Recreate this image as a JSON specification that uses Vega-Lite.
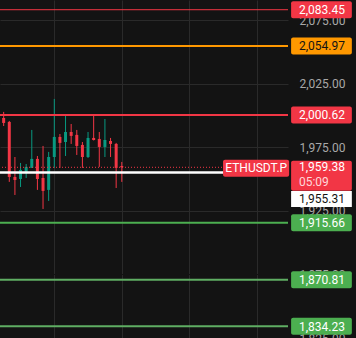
{
  "$schema": "https://vega.github.io/schema/vega-lite/v6.json",
  "width": 288,
  "height": 338,
  "autosize": {"type": "none"},
  "padding": {"left": 0, "top": 0, "right": 68, "bottom": 0},
  "background": "#131313",
  "config": {"view": {"stroke": null}, "font": "Roboto", "text": {"font": "Roboto"}, "scale": {"continuousPadding": 0}},
  "datasets": {
    "candles": [
      {"i": 0, "open": 1998.2, "high": 2003.0, "low": 1991.9, "close": 1994.3},
      {"i": 1, "open": 1995.1, "high": 1995.9, "low": 1947.9, "close": 1951.8},
      {"i": 2, "open": 1951.8, "high": 1967.5, "low": 1937.6, "close": 1949.4},
      {"i": 3, "open": 1950.2, "high": 1962.8, "low": 1943.9, "close": 1957.3},
      {"i": 4, "open": 1954.9, "high": 1962.0, "low": 1951.0, "close": 1959.7},
      {"i": 5, "open": 1958.9, "high": 1988.8, "low": 1958.9, "close": 1966.0},
      {"i": 6, "open": 1966.0, "high": 1968.3, "low": 1941.6, "close": 1950.2},
      {"i": 7, "open": 1951.0, "high": 1976.2, "low": 1926.6, "close": 1940.8},
      {"i": 8, "open": 1941.6, "high": 1971.5, "low": 1932.9, "close": 1967.5},
      {"i": 9, "open": 1967.5, "high": 2013.2, "low": 1958.9, "close": 1983.3},
      {"i": 10, "open": 1983.3, "high": 1985.6, "low": 1958.9, "close": 1978.6},
      {"i": 11, "open": 1979.3, "high": 1999.8, "low": 1968.3, "close": 1987.2},
      {"i": 12, "open": 1987.2, "high": 1993.5, "low": 1977.8, "close": 1984.1},
      {"i": 13, "open": 1984.9, "high": 1988.8, "low": 1969.1, "close": 1976.2},
      {"i": 14, "open": 1977.0, "high": 1979.3, "low": 1958.9, "close": 1967.5},
      {"i": 15, "open": 1967.5, "high": 1987.2, "low": 1966.7, "close": 1982.5},
      {"i": 16, "open": 1982.5, "high": 2000.6, "low": 1980.5, "close": 1980.9},
      {"i": 17, "open": 1981.7, "high": 1987.2, "low": 1959.7, "close": 1975.4},
      {"i": 18, "open": 1975.4, "high": 1997.4, "low": 1967.5, "close": 1980.9},
      {"i": 19, "open": 1980.1, "high": 1982.5, "low": 1967.5, "close": 1977.8},
      {"i": 20, "open": 1977.8, "high": 1978.6, "low": 1943.1, "close": 1958.9},
      {"i": 21, "open": 1960.4, "high": 1963.6, "low": 1947.9, "close": 1959.38}
    ],
    "levels": [
      {"price": 2083.45, "level": "R3"},
      {"price": 2054.97, "level": "R2"},
      {"price": 2000.62, "level": "R1"},
      {"price": 1915.66, "level": "S1"},
      {"price": 1870.81, "level": "S2"},
      {"price": 1834.23, "level": "S3"}
    ],
    "quote": [
      {"symbol": "ETHUSDT.P", "last": 1959.38, "mark": 1955.31, "countdown": "05:09"}
    ]
  },
  "layer": [
    {
      "data": {"name": "candles"},
      "mark": {"type": "rule", "strokeWidth": 1},
      "encoding": {
        "x": {"field": "i", "type": "quantitative",
          "scale": {"domain": [-0.65, 50.55], "nice": false, "zero": false, "padding": 0},
          "axis": {"values": [9, 21, 33, 45], "grid": true, "gridColor": "#2a2a2a", "labels": false, "ticks": false, "domain": false, "title": null}},
        "y": {"field": "low", "type": "quantitative",
          "scale": {"domain": [1825, 2091.1], "nice": false, "zero": false, "padding": 0},
          "axis": {"orient": "right", "values": [1825, 1850, 1875, 1900, 1925, 1950, 1975, 2000, 2025, 2050, 2075],
            "format": ",.2f", "grid": true,
            "gridColor": {"condition": {"test": "datum.value === 1875", "value": "#131313"}, "value": "#2a2a2a"},
            "domain": false, "ticks": false, "labelPadding": 11, "labelAlign": "left", "labelBaseline": "middle",
            "labelColor": "#a8a8a8", "labelFontSize": 12, "labelFont": "Roboto", "title": null}},
        "y2": {"field": "high"},
        "color": {"condition": {"test": "datum.close >= datum.open", "value": "#089981"}, "value": "#f23645"}
      }
    },
    {
      "data": {"name": "candles"},
      "mark": {"type": "bar", "size": 3},
      "encoding": {
        "x": {"field": "i", "type": "quantitative"},
        "y": {"field": "open", "type": "quantitative"},
        "y2": {"field": "close"},
        "color": {"condition": {"test": "datum.close >= datum.open", "value": "#089981"}, "value": "#f23645"}
      }
    },
    {
      "data": {"name": "levels"},
      "mark": {"type": "rule"},
      "encoding": {
        "y": {"field": "price", "type": "quantitative"},
        "stroke": {"field": "level", "type": "nominal",
          "scale": {"domain": ["R3", "R2", "R1", "S1", "S2", "S3"], "range": ["#f23645", "#ff9800", "#f23645", "#4caf50", "#5fae63", "#5fae63"]},
          "legend": null},
        "strokeWidth": {"condition": {"test": "datum.level === 'R3'", "value": 1}, "value": 2}
      }
    },
    {
      "data": {"name": "quote"},
      "mark": {"type": "rule", "color": "#ffffff", "strokeWidth": 2.5},
      "encoding": {"y": {"field": "mark", "type": "quantitative"}}
    },
    {
      "data": {"name": "quote"},
      "mark": {"type": "rule", "color": "#f23645", "strokeWidth": 1, "strokeDash": [1, 2]},
      "encoding": {"y": {"field": "last", "type": "quantitative"}}
    },
    {
      "data": {"name": "levels"},
      "mark": {"type": "rect", "yOffset": -8.5, "y2Offset": 8.5, "cornerRadius": 2},
      "encoding": {
        "x": {"datum": 51.1, "type": "quantitative"},
        "x2": {"datum": 61.9},
        "y": {"field": "price", "type": "quantitative"},
        "y2": {"field": "price"},
        "fill": {"field": "level", "type": "nominal",
          "scale": {"domain": ["R3", "R2", "R1", "S1", "S2", "S3"], "range": ["#f23645", "#ff9800", "#f23645", "#4caf50", "#4caf50", "#4caf50"]},
          "legend": null}
      }
    },
    {
      "data": {"name": "levels"},
      "mark": {"type": "text", "align": "left", "baseline": "middle", "fontSize": 12, "dy": 0.5},
      "encoding": {
        "x": {"datum": 52.5, "type": "quantitative"},
        "y": {"field": "price", "type": "quantitative"},
        "text": {"field": "price", "type": "quantitative", "format": ",.2f"},
        "color": {"condition": {"test": "datum.level === 'R2'", "value": "#131313"}, "value": "#ffffff"}
      }
    },
    {
      "data": {"name": "quote"},
      "mark": {"type": "rect", "yOffset": -7.5, "y2Offset": 9.5, "cornerRadius": 2, "color": "#f23645"},
      "encoding": {
        "x": {"datum": 39.0, "type": "quantitative"},
        "x2": {"datum": 50.75},
        "y": {"field": "last", "type": "quantitative"},
        "y2": {"field": "last"}
      }
    },
    {
      "data": {"name": "quote"},
      "mark": {"type": "text", "align": "center", "baseline": "middle", "fontSize": 12, "dy": 1, "color": "#ffffff"},
      "encoding": {
        "x": {"datum": 44.9, "type": "quantitative"},
        "y": {"field": "last", "type": "quantitative"},
        "text": {"field": "symbol", "type": "nominal"}
      }
    },
    {
      "data": {"name": "quote"},
      "mark": {"type": "rect", "yOffset": -6.5, "y2Offset": 23.5, "cornerRadius": 2, "color": "#f23645"},
      "encoding": {
        "x": {"datum": 51.1, "type": "quantitative"},
        "x2": {"datum": 61.9},
        "y": {"field": "last", "type": "quantitative"},
        "y2": {"field": "last"}
      }
    },
    {
      "data": {"name": "quote"},
      "mark": {"type": "rect", "yOffset": 18.5, "y2Offset": 34.5, "color": "#ffffff"},
      "encoding": {
        "x": {"datum": 51.1, "type": "quantitative"},
        "x2": {"datum": 61.9},
        "y": {"field": "mark", "type": "quantitative"},
        "y2": {"field": "mark"}
      }
    },
    {
      "data": {"name": "quote"},
      "mark": {"type": "text", "align": "left", "baseline": "middle", "fontSize": 12, "dy": 0, "color": "#ffffff"},
      "encoding": {
        "x": {"datum": 52.5, "type": "quantitative"},
        "y": {"field": "last", "type": "quantitative"},
        "text": {"field": "last", "type": "quantitative", "format": ",.2f"}
      }
    },
    {
      "data": {"name": "quote"},
      "mark": {"type": "text", "align": "left", "baseline": "middle", "fontSize": 12, "dy": 15, "color": "#ffd6da"},
      "encoding": {
        "x": {"datum": 52.5, "type": "quantitative"},
        "y": {"field": "last", "type": "quantitative"},
        "text": {"field": "countdown", "type": "nominal"}
      }
    },
    {
      "data": {"name": "quote"},
      "mark": {"type": "text", "align": "left", "baseline": "middle", "fontSize": 12, "dy": 27, "color": "#131313"},
      "encoding": {
        "x": {"datum": 52.5, "type": "quantitative"},
        "y": {"field": "mark", "type": "quantitative"},
        "text": {"field": "mark", "type": "quantitative", "format": ",.2f"}
      }
    }
  ]
}
